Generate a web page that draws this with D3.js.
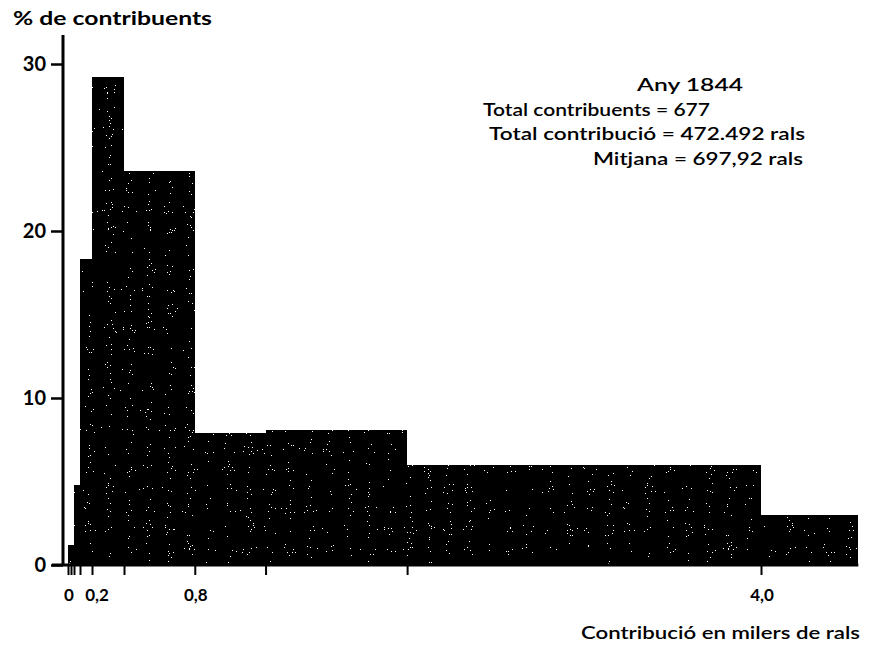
<!DOCTYPE html>
<html>
<head>
<meta charset="utf-8">
<script src="https://cdn.jsdelivr.net/npm/d3@7"></script>
<style>
  html, body { margin: 0; padding: 0; background: #fff; }
  svg { display: block; }
  text { font-family: Lato, "Noto Sans", sans-serif; fill: #000; }
</style>
</head>
<body>
<svg id="chart" width="871" height="650"></svg>
<script>
// Distribution of taxpayers by contribution (thousands of rals), year 1844
const binEdges = [0, 0.05, 0.1, 0.2, 0.4, 0.8, 1.2, 2.0, 4.0, 4.55];
const percents = [1.2, 4.8, 18.3, 29.2, 23.6, 7.9, 8.1, 6.0, 3.0];
const yTickValues = [0, 10, 20, 30];
const xTickValues = [0, 0.025, 0.05, 0.1, 0.2, 0.4, 0.8, 1.2, 2.0, 4.0];
const xLabelValues = [0, 0.2, 0.8, 4.0];
const xLabelTexts = ["0", "0,2", "0,8", "4,0"];
const noteLines = ["Any  1844", "Total contribuents = 677", "Total contribució = 472.492 rals", "Mitjana = 697,92 rals"];

const svg = d3.select("#chart");

// Hand-drawn axis: the low range (< 0.4) is drawn a little compressed
const x = d3.scaleLinear()
  .domain([0, 0.1, 0.2, 0.4, 4.0])
  .range([68, 80, 92, 124, 761]);
const y = d3.scaleLinear().domain([0, 30]).range([565, 64]);

// Speckled ink texture for the bars
const defs = svg.append("defs");
const f = defs.append("filter").attr("id", "speckle")
  .attr("x", 0).attr("y", 0).attr("width", 1).attr("height", 1);
f.append("feTurbulence").attr("type", "fractalNoise").attr("baseFrequency", 0.95)
  .attr("numOctaves", 1).attr("seed", 7).attr("result", "noise");
f.append("feColorMatrix").attr("in", "noise").attr("type", "matrix")
  .attr("values", "0 0 0 0 1  0 0 0 0 1  0 0 0 0 1  1 0 0 0 0").attr("result", "white");
f.append("feComponentTransfer").attr("in", "white").attr("result", "dots")
  .append("feFuncA").attr("type", "discrete")
  .attr("tableValues", d3.range(40).map(i => i >= 29 ? 1 : 0).join(" "));
f.append("feComposite").attr("in", "dots").attr("in2", "SourceAlpha")
  .attr("operator", "in").attr("result", "dotsIn");
const merge = f.append("feMerge");
merge.append("feMergeNode").attr("in", "SourceGraphic");
merge.append("feMergeNode").attr("in", "dotsIn");

// Bars
const bins = percents.map((p, i) => ({ x0: binEdges[i], x1: binEdges[i + 1], p }));
svg.append("g").attr("filter", "url(#speckle)")
  .selectAll("rect").data(bins).join("rect")
  .attr("x", d => Math.round(x(d.x0)))
  .attr("width", d => Math.round(x(d.x1)) - Math.round(x(d.x0)))
  .attr("y", d => Math.round(y(d.p)))
  .attr("height", d => Math.round(y(0)) - Math.round(y(d.p)))
  .attr("shape-rendering", "crispEdges")
  .attr("fill", "#000");

// Y axis
const yAxis = svg.append("g").attr("transform", `translate(63,0)`)
  .call(d3.axisLeft(y).tickValues(yTickValues).tickSize(12).tickPadding(5).tickFormat(d3.format("d")));
yAxis.select(".domain").remove();
yAxis.selectAll(".tick line").attr("stroke", "#000").attr("stroke-width", 2.5);
yAxis.selectAll(".tick text").attr("font-size", 20).attr("font-weight", 700)
  .style("font-family", "Lato, sans-serif");
svg.append("line").attr("x1", 63).attr("x2", 63).attr("y1", 35).attr("y2", y(0) + 1)
  .attr("stroke", "#000").attr("stroke-width", 3);

// X axis
const xAxis = svg.append("g").attr("transform", `translate(0,${y(0)})`)
  .call(d3.axisBottom(x).tickValues(xTickValues).tickSize(10).tickFormat(""));
xAxis.select(".domain").remove();
xAxis.selectAll(".tick line").attr("stroke", "#000").attr("stroke-width", 2);
svg.append("line").attr("x1", 52).attr("x2", x(binEdges[binEdges.length - 1]))
  .attr("y1", y(0)).attr("y2", y(0)).attr("stroke", "#000").attr("stroke-width", 3);

svg.append("g").selectAll("text").data(xLabelValues).join("text")
  .attr("x", (d, i) => x(d) + (i === 1 ? 5 : 1))
  .attr("y", 601)
  .attr("text-anchor", "middle")
  .attr("font-size", 17).attr("font-weight", 700)
  .text((d, i) => xLabelTexts[i]);

// Axis titles
svg.append("text").attr("x", 13).attr("y", 25)
  .attr("font-size", 19).attr("font-weight", 700)
  .attr("textLength", 199).attr("lengthAdjust", "spacingAndGlyphs")
  .text("% de contribuents");
svg.append("text").attr("x", 581).attr("y", 639)
  .attr("font-size", 18).attr("font-weight", 600)
  .attr("textLength", 279).attr("lengthAdjust", "spacingAndGlyphs")
  .text("Contribució en milers de rals");

// Summary notes
const noteX = [637, 483, 489, 593];
const noteW = [106, 227, 316, 210];
svg.append("g").selectAll("text").data(noteLines).join("text")
  .attr("x", (d, i) => noteX[i])
  .attr("y", (d, i) => 91 + i * 24.5)
  .attr("font-size", 17.5).attr("font-weight", 600)
  .attr("textLength", (d, i) => noteW[i]).attr("lengthAdjust", "spacingAndGlyphs")
  .text(d => d);
</script>
</body>
</html>
